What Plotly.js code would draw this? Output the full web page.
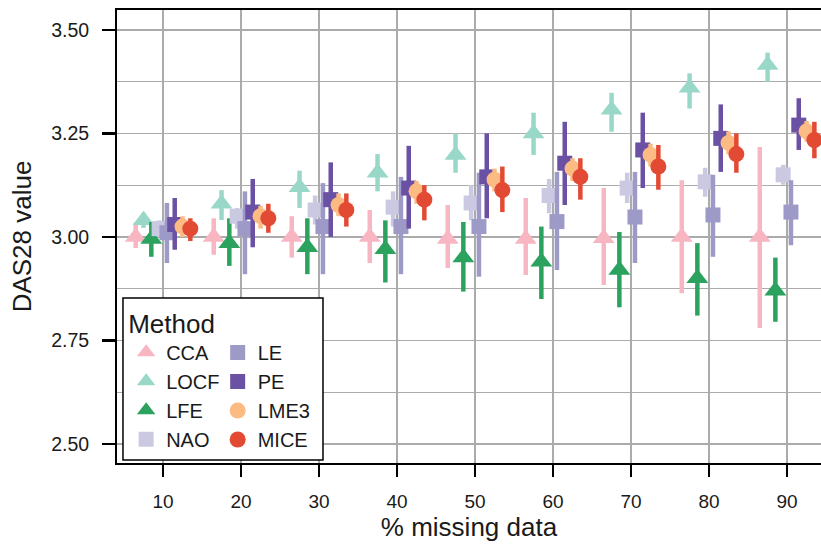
<!DOCTYPE html>
<html>
<head>
<meta charset="utf-8">
<script src="https://cdn.plot.ly/plotly-3.0.1.min.js"></script>
<style>html,body{margin:0;padding:0;background:#fff;}#chart{width:821px;height:546px;}</style>
</head>
<body>
<div id="chart"></div>
<script>
// ---- data ----
const pctMissing = [10, 20, 30, 40, 50, 60, 70, 80, 90];
const methods = ["CCA", "LOCF", "LFE", "NAO", "LE", "PE", "LME3", "MICE"];

const ccaMean  = [3.000, 3.000, 3.000, 3.000, 2.995, 2.995, 2.997, 3.000, 3.000];
const ccaLow   = [2.973, 2.957, 2.950, 2.937, 2.925, 2.908, 2.884, 2.864, 2.780];
const ccaHigh  = [3.034, 3.045, 3.050, 3.065, 3.077, 3.094, 3.118, 3.137, 3.217];

const locfMean = [3.040, 3.080, 3.120, 3.155, 3.198, 3.250, 3.307, 3.360, 3.415];
const locfLow  = [3.022, 3.041, 3.070, 3.110, 3.155, 3.198, 3.254, 3.310, 3.375];
const locfHigh = [3.058, 3.113, 3.160, 3.200, 3.250, 3.300, 3.348, 3.395, 3.445];

const lfeMean  = [2.995, 2.985, 2.975, 2.970, 2.950, 2.940, 2.920, 2.900, 2.870];
const lfeLow   = [2.952, 2.930, 2.910, 2.890, 2.868, 2.850, 2.830, 2.810, 2.795];
const lfeHigh  = [3.036, 3.045, 3.045, 3.040, 3.036, 3.025, 3.012, 2.985, 2.950];

const naoMean  = [3.020, 3.050, 3.065, 3.072, 3.082, 3.100, 3.118, 3.133, 3.150];
const naoLow   = [3.000, 3.020, 3.030, 3.025, 3.040, 3.057, 3.082, 3.097, 3.126];
const naoHigh  = [3.040, 3.070, 3.100, 3.110, 3.125, 3.140, 3.155, 3.167, 3.174];

const leMean   = [3.010, 3.020, 3.025, 3.025, 3.025, 3.037, 3.048, 3.053, 3.060];
const leLow    = [2.937, 2.910, 2.910, 2.910, 2.904, 2.920, 2.937, 2.952, 2.980];
const leHigh   = [3.082, 3.110, 3.130, 3.145, 3.155, 3.157, 3.157, 3.150, 3.137];

const peMean   = [3.030, 3.060, 3.090, 3.118, 3.145, 3.178, 3.210, 3.238, 3.270];
const peLow    = [2.969, 2.975, 3.000, 3.020, 3.045, 3.077, 3.118, 3.157, 3.210];
const peHigh   = [3.094, 3.140, 3.180, 3.220, 3.250, 3.278, 3.300, 3.320, 3.335];

const lme3Mean = [3.025, 3.050, 3.077, 3.110, 3.138, 3.165, 3.198, 3.227, 3.255];
const lme3Low  = [3.000, 3.020, 3.050, 3.080, 3.110, 3.135, 3.170, 3.200, 3.230];
const lme3High = [3.050, 3.075, 3.105, 3.135, 3.165, 3.190, 3.225, 3.255, 3.280];

const miceMean = [3.020, 3.045, 3.065, 3.090, 3.113, 3.145, 3.170, 3.200, 3.234];
const miceLow  = [2.990, 3.010, 3.025, 3.040, 3.060, 3.090, 3.114, 3.155, 3.190];
const miceHigh = [3.045, 3.080, 3.105, 3.125, 3.170, 3.190, 3.222, 3.250, 3.278];

// ---- styling (separate from data) ----
const colors  = ["#F7B6C2", "#99D8C9", "#2CA25F", "#CBC9E2", "#9E9AC8", "#6A51A3", "#FDBB84", "#E34A33"];
const symbols = ["triangle-up", "triangle-up", "triangle-up", "square", "square", "square", "circle", "circle"];
const sizes   = [19, 19, 19, 15, 15, 15, 16, 16];
const dodge   = [-3.5, -2.5, -1.5, -0.5, 0.5, 1.5, 2.5, 3.5];   // position_dodge offsets (x units)
const legendOf = ["legend", "legend", "legend", "legend", "legend2", "legend2", "legend2", "legend2"];

const series = [
  [ccaMean, ccaLow, ccaHigh],
  [locfMean, locfLow, locfHigh],
  [lfeMean, lfeLow, lfeHigh],
  [naoMean, naoLow, naoHigh],
  [leMean, leLow, leHigh],
  [peMean, peLow, peHigh],
  [lme3Mean, lme3Low, lme3High],
  [miceMean, miceLow, miceHigh]
];

const traces = methods.map((m, i) => {
  const [mean, lo, hi] = series[i];
  return {
    type: "scatter",
    mode: "markers",
    name: m,
    legend: legendOf[i],
    x: pctMissing.map(p => p + dodge[i]),
    y: mean,
    marker: {color: colors[i], symbol: symbols[i], size: sizes[i], line: {width: 0}},
    error_y: {
      type: "data", symmetric: false,
      array: hi.map((h, k) => h - mean[k]),
      arrayminus: lo.map((l, k) => mean[k] - l),
      color: colors[i], thickness: 4.5, width: 0
    },
    hoverinfo: "x+y+name"
  };
});

const FONT = "Liberation Sans, Arial, sans-serif";
const gridCol = "#ababab";

const layout = {
  width: 821, height: 546,
  margin: {l: 117, r: 0, t: 10, b: 83},
  paper_bgcolor: "#ffffff",
  plot_bgcolor: "#ffffff",
  font: {family: FONT, color: "#1a1a1a"},
  showlegend: true,
  xaxis: {
    range: [4.1, 94.35],
    tick0: 10, dtick: 10,
    showgrid: true, gridcolor: gridCol, gridwidth: 1.3,
    zeroline: false,
    showline: true, mirror: true, linecolor: "#000", linewidth: 2,
    ticks: "outside", ticklen: 12, tickwidth: 2.5, tickcolor: "#000",
    ticklabelstandoff: 8,
    tickfont: {size: 19, family: FONT, color: "#1a1a1a"},
    title: {text: "% missing data", font: {size: 26, family: FONT, color: "#1a1a1a"}, standoff: 4}
  },
  yaxis: {
    range: [2.454, 3.548],
    tick0: 2.5, dtick: 0.25, tickformat: ".2f",
    showgrid: true, gridcolor: gridCol, gridwidth: 1.3,
    minor: {dtick: 0.125, tick0: 2.5, showgrid: true, gridcolor: gridCol, gridwidth: 1.3, ticks: ""},
    zeroline: false,
    showline: true, mirror: false, linecolor: "#000", linewidth: 2,
    ticks: "outside", ticklen: 13, tickwidth: 2.5, tickcolor: "#000",
    ticklabelstandoff: 9,
    tickfont: {size: 19.5, family: FONT, color: "#1a1a1a"},
    title: {text: "DAS28 value", font: {size: 26, family: FONT, color: "#1a1a1a"}, standoff: 12}
  },
  shapes: [
    {type: "line", xref: "paper", yref: "y", x0: 0, x1: 1, y0: 3.0, y1: 3.0,
     line: {color: "#000", width: 1.6}, layer: "between"},
    {type: "rect", xref: "paper", yref: "paper", x0: 0.0085, x1: 0.2926, y0: 0.0066, y1: 0.364,
     fillcolor: "#ffffff", line: {color: "#000", width: 1.5}, layer: "above"}
  ],
  legend: {
    x: 0.013, xanchor: "left", y: 0.362, yanchor: "top",
    bgcolor: "rgba(0,0,0,0)", borderwidth: 0,
    font: {size: 20, family: FONT, color: "#1a1a1a"},
    title: {text: "Method", font: {size: 26, family: FONT, color: "#1a1a1a"}},
    itemsizing: "trace", tracegroupgap: 0, traceorder: "normal"
  },
  legend2: {
    x: 0.143, xanchor: "left", y: 0.287, yanchor: "top",
    bgcolor: "rgba(0,0,0,0)", borderwidth: 0,
    font: {size: 20, family: FONT, color: "#1a1a1a"},
    itemsizing: "trace", tracegroupgap: 0, traceorder: "normal"
  }
};

Plotly.newPlot("chart", traces, layout, {displayModeBar: false, staticPlot: true});
</script>
</body>
</html>
